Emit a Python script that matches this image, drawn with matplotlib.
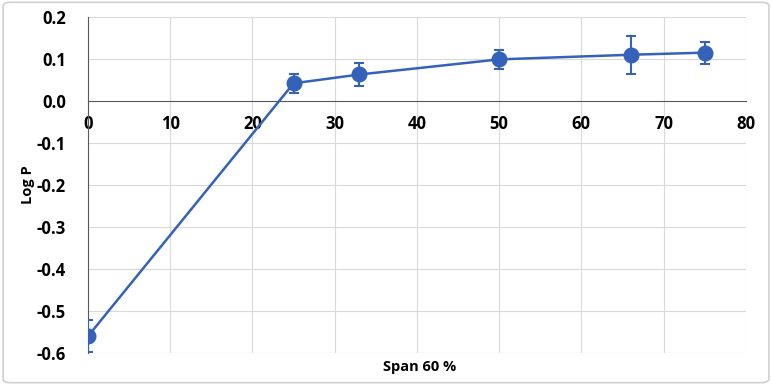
import matplotlib.pyplot as plt
from matplotlib.patches import FancyBboxPatch

span = [0, 25, 33, 50, 66, 75]
log_p = [-0.56, 0.042, 0.063, 0.099, 0.110, 0.115]
err = [0.038, 0.023, 0.027, 0.023, 0.045, 0.026]

x_ticks = [0, 10, 20, 30, 40, 50, 60, 70, 80]
y_ticks = [-0.6, -0.5, -0.4, -0.3, -0.2, -0.1, 0.0, 0.1, 0.2]

plt.rcParams["font.family"] = ["Open Sans", "DejaVu Sans"]
blue = "#3462BA"

fig = plt.figure(figsize=(7.72, 3.85), dpi=100)
ax = fig.add_axes([0.114, 0.083, 0.852, 0.873])

ax.errorbar(span, log_p, yerr=err, color=blue, lw=1.8, marker="o", ms=10.5,
            ecolor=blue, elinewidth=1.5, capsize=3.5, capthick=1.5, zorder=3)

ax.set_xlim(0, 80)
ax.set_ylim(-0.6, 0.2)
ax.set_xticks(x_ticks)
ax.set_yticks(y_ticks)
ax.set_yticklabels([f"{v:.1f}" for v in y_ticks])
ax.grid(True, color="#d9d9d9", lw=0.8, zorder=0)

for s in ["top", "right"]:
    ax.spines[s].set_visible(False)
ax.spines["bottom"].set_position(("data", 0))
ax.spines["bottom"].set_color("#595959")
ax.spines["left"].set_color("#595959")
ax.tick_params(axis="x", length=0, labelsize=12, pad=10)
ax.tick_params(axis="y", length=0, labelsize=12, pad=16)
for lab in ax.get_xticklabels() + ax.get_yticklabels():
    lab.set_fontweight("bold")

fig.text(0.544, 0.047, "Span 60 %", ha="center", va="center",
         fontsize=10.5, fontweight="bold")
fig.text(0.036, 0.52, "Log P", ha="center", va="center", rotation=90,
         fontsize=10.5, fontweight="bold")

border = FancyBboxPatch((0.004, 0.006), 0.992, 0.988, boxstyle="round,pad=0,rounding_size=0.01",
                        transform=fig.transFigure, fill=False, ec="#d0d0d0", lw=1.2)
fig.patches.append(border)

fig.savefig("out.png", dpi=100)
